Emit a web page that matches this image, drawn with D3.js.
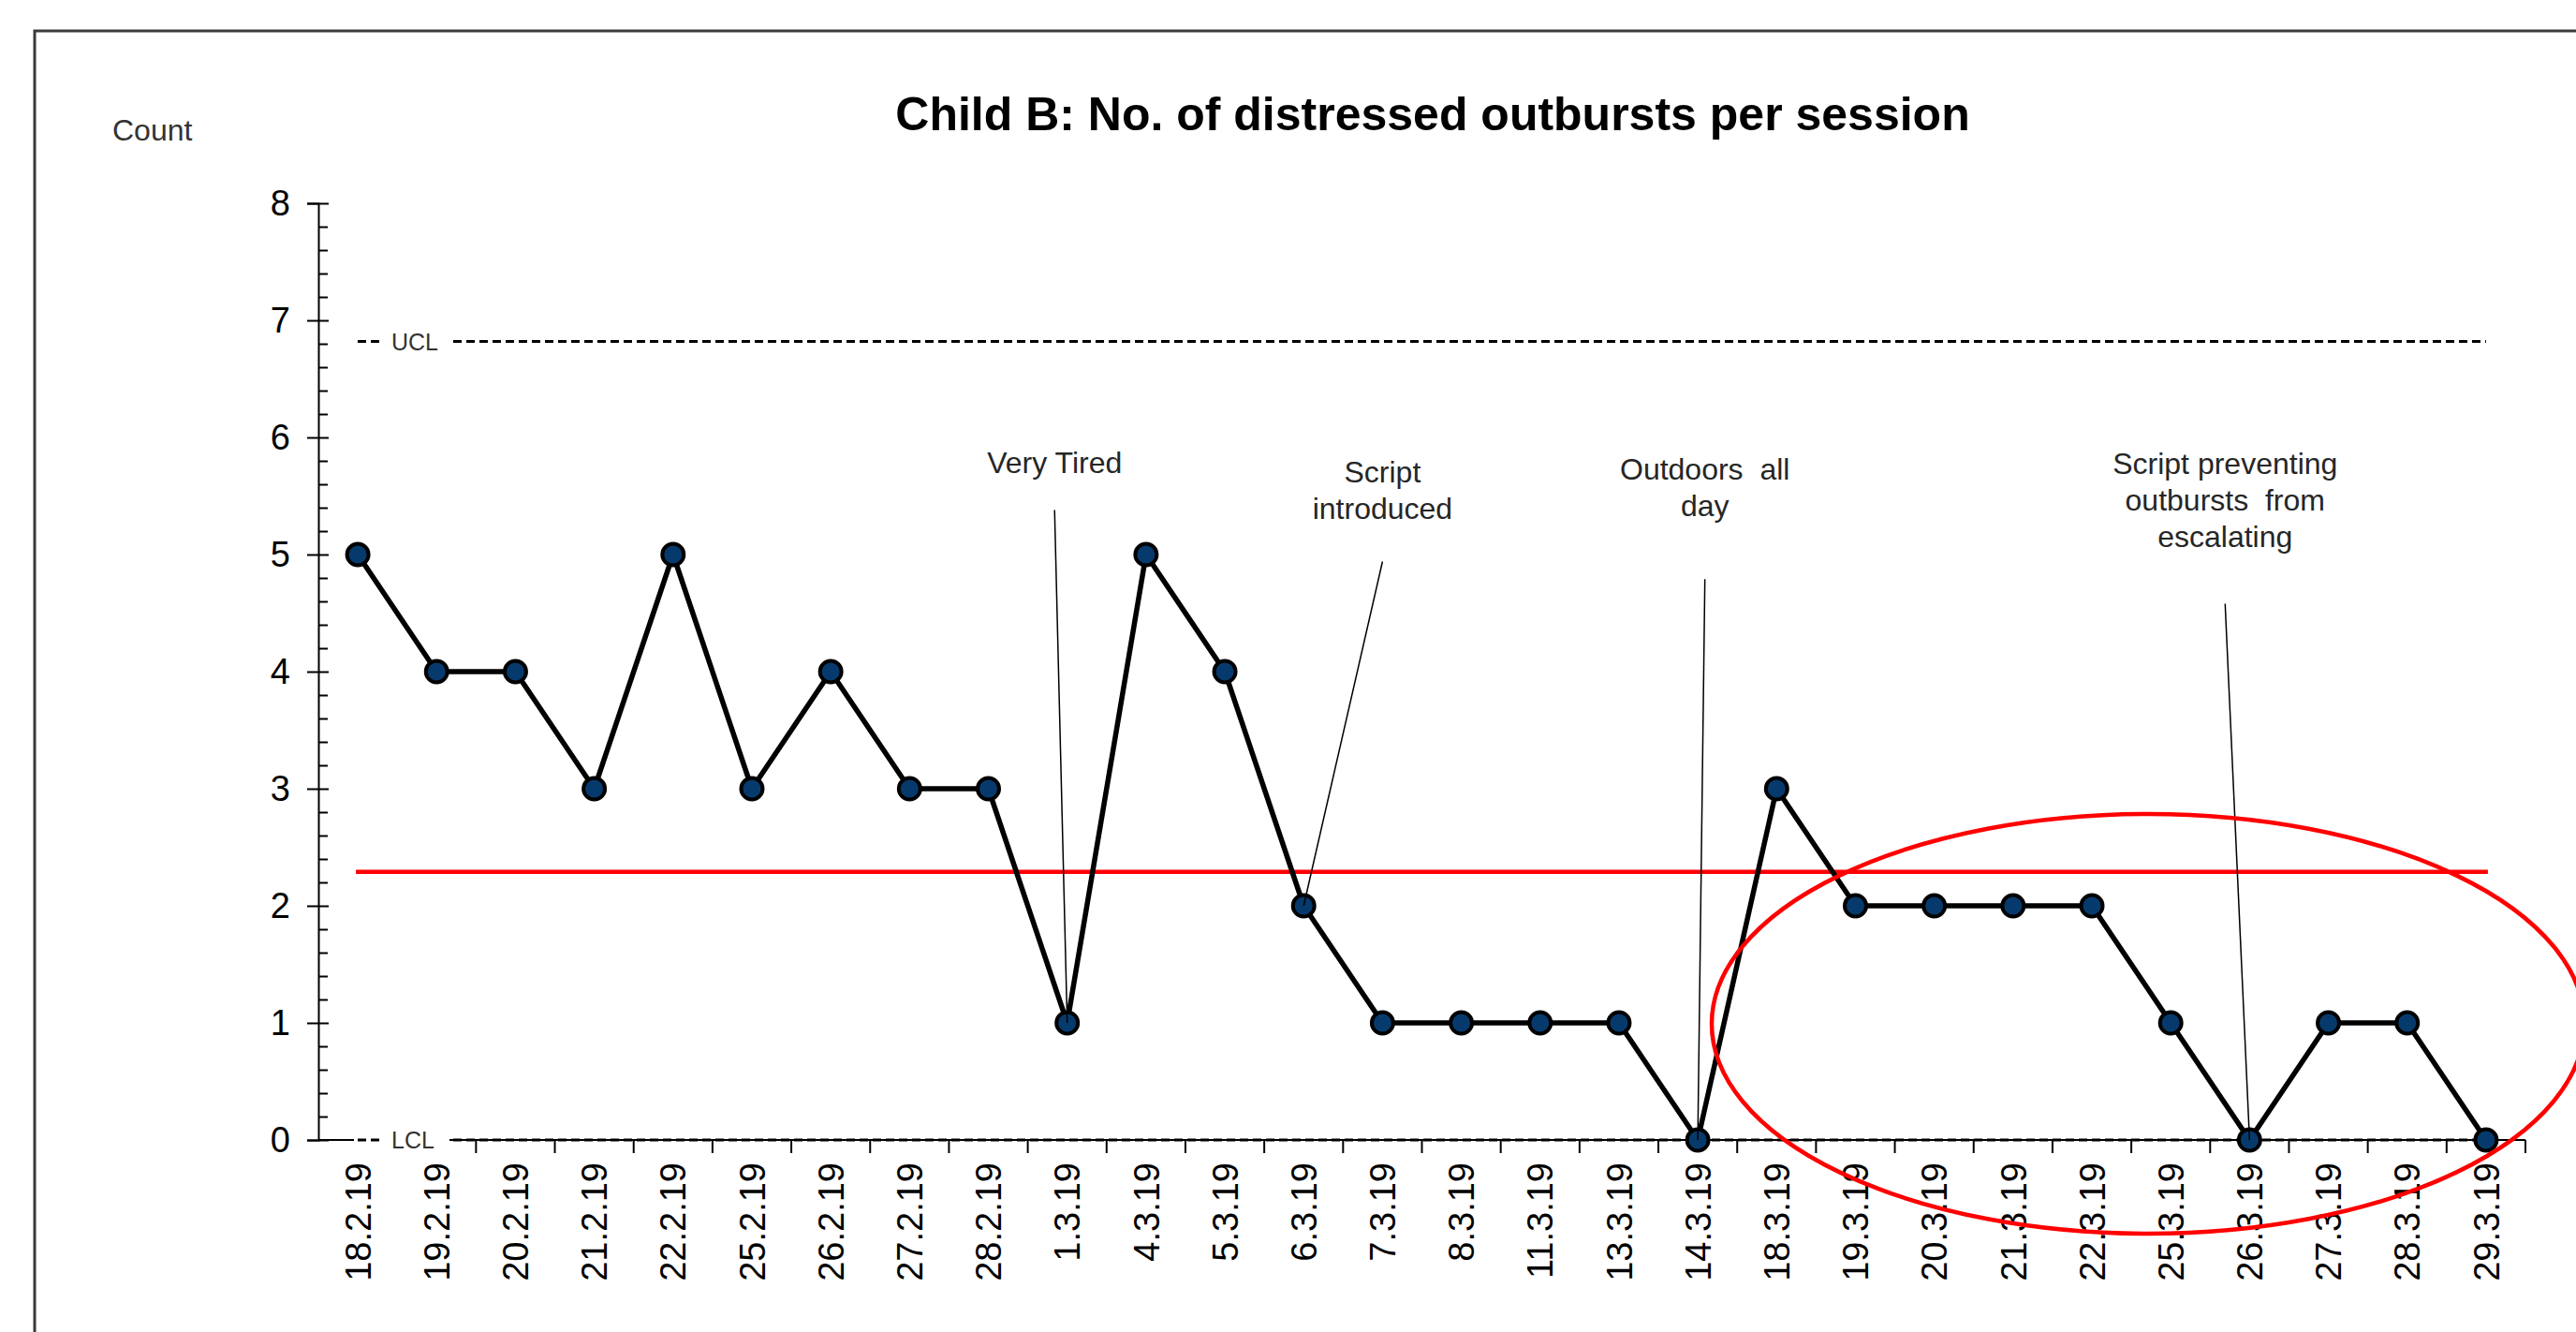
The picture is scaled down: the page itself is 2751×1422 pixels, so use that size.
<!DOCTYPE html>
<html>
<head>
<meta charset="utf-8">
<script src="https://cdn.jsdelivr.net/npm/d3@7"></script>
<style>
  body { margin: 0; background: #fff; }
  svg { display: block; font-family: "Liberation Sans", Arial, sans-serif; }
</style>
</head>
<body>
<svg id="chart" width="2751" height="1422"></svg>
<script>
// session dates + outburst counts
var dates = ['18.2.19','19.2.19','20.2.19','21.2.19','22.2.19','25.2.19','26.2.19','27.2.19','28.2.19',
  '1.3.19','4.3.19','5.3.19','6.3.19','7.3.19','8.3.19','11.3.19','13.3.19','14.3.19','18.3.19',
  '19.3.19','20.3.19','21.3.19','22.3.19','25.3.19','26.3.19','27.3.19','28.3.19','29.3.19'];
var counts = [5,4,4,3,5,3,4,3,3,1,5,4,2,1,1,1,1,0,3,2,2,2,2,1,0,1,1,0];

// control limits (c-chart)
var centreLine = 2.29;
var ucl = 6.82;
var lcl = 0;
var yTicks = [0,1,2,3,4,5,6,7,8];

// annotations: text lines, the session they point at
var noteText = [['Very Tired'], ['Script', 'introduced'], ['Outdoors  all', 'day'],
  ['Script preventing', 'outbursts  from', 'escalating']];
var noteDate = ['1.3.19', '6.3.19', '14.3.19', '26.3.19'];
// where each note sits (x in session index, y in count units)
var noteX = [8.84, 13.0, 17.09, 23.69];
var noteY = [5.70, 5.62, 5.64, 5.69];
var leaderY = [5.38, 4.94, 4.79, 4.58];

var svg = d3.select('#chart');

// outer frame (runs off the page on right/bottom like the original)
svg.append('rect')
  .attr('x', 37).attr('y', 33).attr('width', 2800).attr('height', 1500)
  .attr('fill', 'none').attr('stroke', '#3a3a3a').attr('stroke-width', 3);

var x = d3.scaleBand().domain(dates).range([340, 2697]).padding(0);
var xi = d3.scaleLinear().domain([0, dates.length - 1])
  .range([x(dates[0]) + x.bandwidth() / 2, x(dates[dates.length - 1]) + x.bandwidth() / 2]);
var y = d3.scaleLinear().domain([0, 8]).range([1217, 217]);
var cx = d => x(d) + x.bandwidth() / 2;

// title + y label
svg.append('text')
  .attr('x', 1530).attr('y', 139)
  .attr('text-anchor', 'middle')
  .attr('font-size', 50).attr('font-weight', 'bold')
  .text('Child B: No. of distressed outbursts per session');

svg.append('text')
  .attr('x', 120).attr('y', 150)
  .attr('font-size', 32).attr('fill', '#333')
  .text('Count');

////// y axis //////
var yAxis = svg.append('g')
  .attr('transform', 'translate(340,0)')
  .call(d3.axisLeft(y).tickValues(yTicks).tickSize(12).tickPadding(18).tickFormat(d3.format('d')));
yAxis.select('.domain').attr('stroke', '#000').attr('stroke-width', 2);
yAxis.selectAll('.tick line').attr('x1', 11).attr('stroke-width', 2);
yAxis.selectAll('.tick text').attr('font-size', 38).attr('fill', '#000')
  .attr('font-family', '"Liberation Sans", Arial, sans-serif');

var minor = d3.range(0, 8.01, 0.2).filter(v => Math.abs(v - Math.round(v)) > 0.01);
var yMinor = svg.append('g')
  .attr('transform', 'translate(340,0)')
  .call(d3.axisRight(y).tickValues(minor).tickSize(10).tickFormat(''));
yMinor.select('.domain').remove();
yMinor.selectAll('.tick line').attr('stroke-width', 2);

////// x axis //////
svg.append('line')
  .attr('x1', 340).attr('x2', 2697).attr('y1', y(0)).attr('y2', y(0))
  .attr('stroke', '#000').attr('stroke-width', 2);

var xAxis = svg.append('g')
  .attr('transform', 'translate(0,' + y(0) + ')')
  .call(d3.axisBottom(x).tickSize(0).tickPadding(0));
xAxis.select('.domain').remove();
xAxis.selectAll('.tick text')
  .attr('font-size', 38).attr('fill', '#000')
  .attr('font-family', '"Liberation Sans", Arial, sans-serif')
  .attr('transform', 'rotate(-90)')
  .attr('text-anchor', 'end')
  .attr('x', -24).attr('y', 0).attr('dy', '0.36em');

// boundary ticks between sessions
svg.append('g').selectAll('line')
  .data(dates)
  .join('line')
  .attr('x1', d => x(d) + x.bandwidth()).attr('x2', d => x(d) + x.bandwidth())
  .attr('y1', y(0)).attr('y2', y(0) + 14)
  .attr('stroke', '#000').attr('stroke-width', 2);

////// limit lines //////
// UCL
svg.append('line')
  .attr('x1', 484).attr('x2', cx(dates[dates.length - 1]))
  .attr('y1', y(ucl)).attr('y2', y(ucl))
  .attr('stroke', '#000').attr('stroke-width', 3).attr('stroke-dasharray', '9,5');

// LCL: white label box hides the axis under the label
svg.append('rect')
  .attr('x', 378).attr('y', y(lcl) - 16).attr('width', 102).attr('height', 32)
  .attr('fill', '#fff');
svg.append('line')
  .attr('x1', 484).attr('x2', cx(dates[dates.length - 1]))
  .attr('y1', y(lcl)).attr('y2', y(lcl))
  .attr('stroke', '#000').attr('stroke-width', 3).attr('stroke-dasharray', '9,5');

[['UCL', ucl], ['LCL', lcl]].forEach(function (l) {
  svg.append('line')
    .attr('x1', 382).attr('x2', 406).attr('y1', y(l[1])).attr('y2', y(l[1]))
    .attr('stroke', '#000').attr('stroke-width', 3).attr('stroke-dasharray', '9,5');
  svg.append('text')
    .attr('x', 418).attr('y', y(l[1])).attr('dy', '0.36em')
    .attr('font-size', 25).attr('fill', '#333')
    .text(l[0]);
});

// centre line
svg.append('line')
  .attr('x1', cx(dates[0]) - 2).attr('x2', cx(dates[dates.length - 1]) + 2)
  .attr('y1', y(centreLine)).attr('y2', y(centreLine))
  .attr('stroke', '#ff0000').attr('stroke-width', 4.5);

////// data line + markers //////
var line = d3.line().x((d, i) => cx(dates[i])).y(d => y(d));
svg.append('path')
  .datum(counts)
  .attr('d', line)
  .attr('fill', 'none').attr('stroke', '#000').attr('stroke-width', 5.5)
  .attr('stroke-linejoin', 'round');

svg.append('g').selectAll('circle')
  .data(counts)
  .join('circle')
  .attr('cx', (d, i) => cx(dates[i]))
  .attr('cy', d => y(d))
  .attr('r', 11.5)
  .attr('fill', '#073a6c').attr('stroke', '#000').attr('stroke-width', 4);

////// annotations //////
noteText.forEach(function (lines, k) {
  var tx = xi(noteX[k]);
  svg.append('line')
    .attr('x1', tx).attr('y1', y(leaderY[k]))
    .attr('x2', cx(noteDate[k])).attr('y2', y(counts[dates.indexOf(noteDate[k])]))
    .attr('stroke', '#000').attr('stroke-width', 1.5);
  var t = svg.append('text')
    .attr('x', tx).attr('y', y(noteY[k]))
    .attr('text-anchor', 'middle')
    .attr('font-size', 32).attr('fill', '#262626')
    .style('white-space', 'pre');
  t.selectAll('tspan')
    .data(lines)
    .join('tspan')
    .attr('x', tx)
    .attr('dy', (d, i) => i ? 39 : 0)
    .text(d => d);
});

// red ring round the later sessions
svg.append('ellipse')
  .attr('cx', 2294).attr('cy', 1093).attr('rx', 466).attr('ry', 224)
  .attr('fill', 'none').attr('stroke', '#ff0000').attr('stroke-width', 4.5);
</script>
</body>
</html>
